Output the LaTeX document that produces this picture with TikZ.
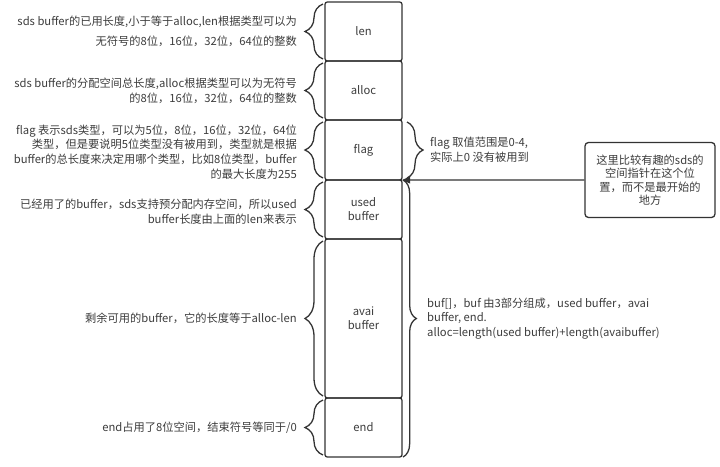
\documentclass[tikz,border=0pt]{standalone}
\usepackage{fontspec}
\setmainfont{Noto Sans CJK SC}
\usetikzlibrary{positioning, arrows.meta, decorations.pathreplacing}
\definecolor{sdsline}{RGB}{51,51,51}
\definecolor{sdstext}{RGB}{60,60,60}
\tikzset{
  cellbox/.style  = {draw=sdsline, line width=1.1pt, rounded corners=2pt,
                     outer sep=0pt, minimum width=2.31cm, minimum height=1.77cm,
                     align=center, text=sdstext,
                     font=\fontsize{9.6}{12}\selectfont},
  descnode/.style = {inner sep=0pt, align=right, text=sdstext,
                     font=\fontsize{9.6}{12.6}\selectfont},
  notebox/.style  = {draw=sdsline, line width=1.1pt, rounded corners=3pt,
                     minimum width=3.9cm, minimum height=2.25cm,
                     align=center, text=sdstext,
                     font=\fontsize{9.6}{11.5}\selectfont},
  lbrace/.style   = {draw=sdsline, line width=1.1pt, decorate,
                     decoration={brace, amplitude=0.54cm}},
  rbrace/.style   = {draw=sdsline, line width=1.1pt, decorate,
                     decoration={brace, amplitude=0.48cm}},
  ptrarr/.style   = {-{Triangle[length=2.4mm, width=2mm]}, line width=1.1pt, sdsline},
}
\begin{document}
\begin{tikzpicture}[x=0.03cm, y=-0.03cm, node distance=0pt]
        \useasboundingbox (0,0) rectangle (720,466);
        % the sds header and buf, top to bottom
        \node[cellbox] (len) at (363.5,31.5) {len};
        \node[cellbox, below=of len] (alloc) {alloc};
        \node[cellbox, below=of alloc, minimum height=1.8cm] (flag) {flag};
        \node[cellbox, below=of flag] (used) {used\\buffer};
        \node[cellbox, below=of used, minimum height=4.77cm] (avai) {avai\\buffer};
        \node[cellbox, below=of avai] (endb) {end};
        \foreach \b in {len, alloc, flag, used, avai, endb}
          \draw[lbrace] ([xshift=-0.06cm, yshift=0.06cm]\b.south west)
                     -- ([xshift=-0.06cm, yshift=-0.06cm]\b.north west);
        \node[descnode, left=0.84cm of len]
          {sds buffer的已用长度,小于等于alloc,len根据类型可以为\\[4pt]
           无符号的8位，16位，32位，64位的整数};
        \node[descnode, left=0.84cm of alloc]
          {sds buffer的分配空间总长度,alloc根据类型可以为无符号\\
           的8位，16位，32位，64位的整数};
        \node[descnode, left=0.84cm of flag, yshift=-0.06cm]
          {flag 表示sds类型，可以为5位，8位，16位，32位，64位\\
           类型，但是要说明5位类型没有被用到，类型就是根据\\
           buffer的总长度来决定用哪个类型，比如8位类型，buffer\\
           的最大长度为255};
        \node[descnode, left=0.84cm of used, yshift=-0.06cm]
          {已经用了的buffer，sds支持预分配内存空间，所以used\\
           buffer长度由上面的len来表示};
        \node[descnode, left=0.84cm of avai] {剩余可用的buffer，它的长度等于alloc-len};
        \node[descnode, left=0.84cm of endb] {end占用了8位空间，结束符号等同于/0};
        % right side
        \draw[rbrace] ([xshift=0.15cm, yshift=-0.06cm]flag.north east)
                   -- ([xshift=0.15cm, yshift=0.06cm]flag.south east);
        \node[descnode, right=0.84cm of flag, align=left]
          {flag 取值范围是0-4,\\实际上0 没有被用到};
        \draw[rbrace, decoration={amplitude=0.4cm}]
          ([xshift=0.03cm]used.north east) -- ([xshift=0.03cm]endb.south east);
        \node[descnode, right=0.75cm of avai, align=left]
          {buf[]，buf 由3部分组成，used buffer，avai\\
           buffer, end.\\
           alloc=length(used buffer)+length(avaibuffer)};
        \node[notebox] (note) at (650,180)
          {这里比较有趣的sds的\\空间指针在这个位\\置，而不是最开始的\\地方};
        \draw[ptrarr] (note.west) -- (flag.south east);
      \end{tikzpicture}
\end{document}
